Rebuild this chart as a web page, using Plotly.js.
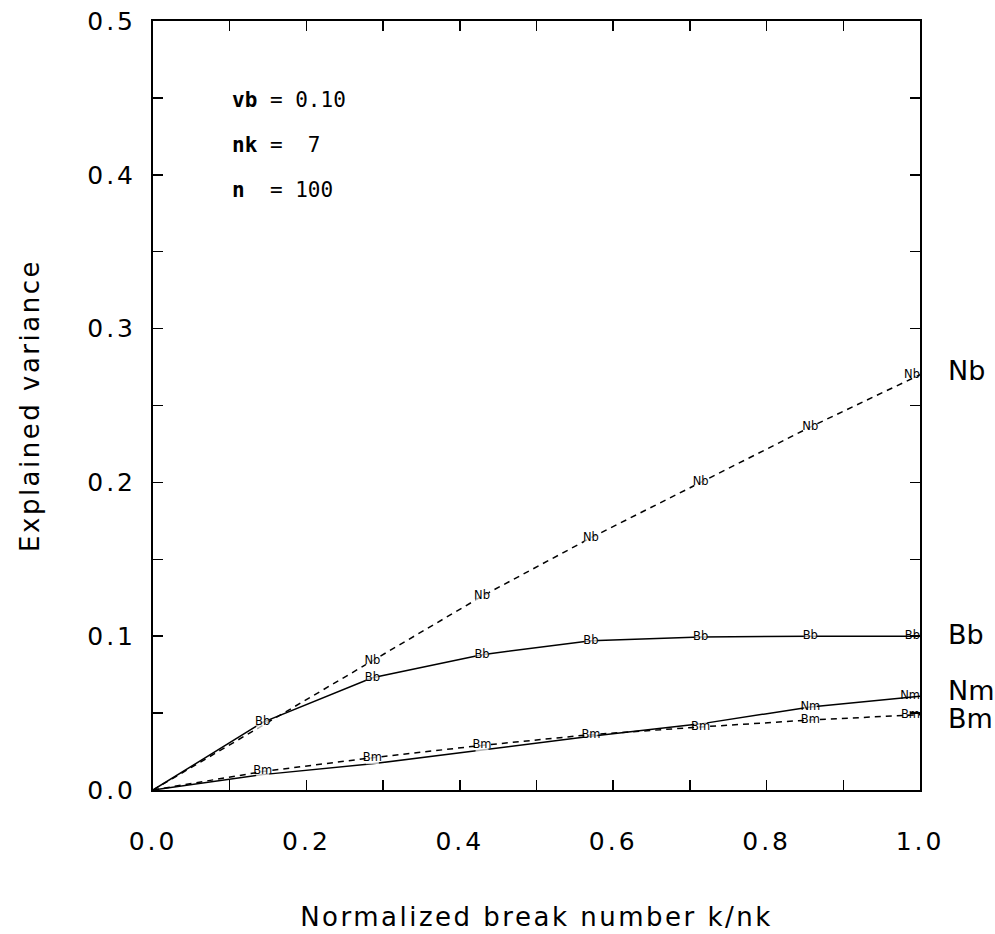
<!DOCTYPE html>
<html>
<head>
<meta charset="utf-8">
<script src="https://cdn.plot.ly/plotly-3.0.1.min.js"></script>
<style>
  html, body { margin: 0; padding: 0; background: #fff; }
  #chart { width: 995px; height: 934px; }
  .xtitle { letter-spacing: 2.5px; }
  .ytitle { letter-spacing: 2.5px; }
  .xtick text, .ytick text { letter-spacing: 3px; }
</style>
</head>
<body>
<div id="chart"></div>
<script>
// ---- data ----
const kNorm = [0, 0.143, 0.286, 0.429, 0.571, 0.714, 0.857, 1.0];
const Nb = [0, 0.042, 0.084, 0.126, 0.164, 0.200, 0.236, 0.270];
const Bb = [0, 0.044, 0.073, 0.088, 0.097, 0.0995, 0.100, 0.100];
const Nm = [0, 0.010, 0.017, 0.026, 0.035, 0.043, 0.054, 0.061];
const Bm = [0, 0.012, 0.021, 0.029, 0.036, 0.041, 0.0455, 0.049];

// in-line labels as visible in the reference (hidden ones are covered by another label there)
const NbLabels = ['', '', 'Nb', 'Nb', 'Nb', 'Nb', 'Nb', 'Nb'];
const BbLabels = ['', 'Bb', 'Bb', 'Bb', 'Bb', 'Bb', 'Bb', 'Bb'];
const NmLabels = ['', '', '', '', '', '', 'Nm', 'Nm'];
const BmLabels = ['', 'Bm', 'Bm', 'Bm', 'Bm', 'Bm', 'Bm', 'Bm'];

const seriesNames = ['Nb', 'Nm', 'Bb', 'Bm'];
const seriesDash  = ['dash', 'solid', 'solid', 'dash'];

const xTickVals = [0, 0.1, 0.2, 0.3, 0.4, 0.5, 0.6, 0.7, 0.8, 0.9, 1.0];
const xTickText = ['0.0', '', '0.2', '', '0.4', '', '0.6', '', '0.8', '', '1.0'];
const yTickVals = [0, 0.05, 0.1, 0.15, 0.2, 0.25, 0.3, 0.35, 0.4, 0.45, 0.5];
const yTickText = ['0.0', '', '0.1', '', '0.2', '', '0.3', '', '0.4', '', '0.5'];

const paramLines = ['<b>vb</b> = 0.10', '<b>nk</b> =\u00a0\u00a07', '<b>n</b>\u00a0\u00a0= 100'];

// ---- traces ----
const seriesY = { Nb: Nb, Nm: Nm, Bb: Bb, Bm: Bm };
const seriesText = { Nb: NbLabels, Nm: NmLabels, Bb: BbLabels, Bm: BmLabels };
const traces = seriesNames.map((name, i) => {
  const y = seriesY[name];
  const text = seriesText[name];
  const pos = y.map((v, j) => (j === y.length - 1 ? 'middle left' : 'middle center'));
  return {
    x: kNorm, y: y, type: 'scatter', mode: 'lines+markers+text',
    name: name, text: text, textposition: pos, cliponaxis: false,
    line: { color: '#000', width: 1.5, dash: seriesDash[i] === 'dash' ? '6px,5px' : 'solid' },
    marker: { symbol: 'square', size: text.map((t, j) => (t === '' || j === y.length - 1 ? 0 : 13)),
              color: '#fff', line: { width: 0 } },
    textfont: { family: 'DejaVu Sans', size: 11.5, color: '#000' },
    hoverinfo: 'x+y+name', showlegend: false
  };
});

// ---- annotations ----
const annotations = [];
const paramY = [0.897, 0.839, 0.780];
paramLines.forEach((t, i) => annotations.push({
  text: t, xref: 'paper', yref: 'paper', x: 0.1, y: paramY[i],
  xanchor: 'left', yanchor: 'middle', showarrow: false,
  font: { family: 'DejaVu Sans Mono', size: 21, color: '#000' }
}));
const endLabelY = { Nb: 0.546, Bb: 0.2016, Nm: 0.130, Bm: 0.0936 };
Object.keys(endLabelY).forEach(k => annotations.push({
  text: k, xref: 'paper', yref: 'paper', x: 1, y: endLabelY[k], xshift: 26,
  xanchor: 'left', yanchor: 'middle', showarrow: false,
  font: { family: 'DejaVu Sans', size: 27, color: '#000' }
}));

const axisCommon = {
  showgrid: false, zeroline: false, showline: true, linecolor: '#000', linewidth: 2,
  mirror: 'ticks', ticks: 'inside', ticklen: 10, tickwidth: 1.5, tickcolor: '#000',
  tickfont: { family: 'DejaVu Sans', size: 25, color: '#000' }, tickmode: 'array',
  automargin: false
};

const layout = {
  width: 995, height: 934,
  margin: { l: 153, r: 75, t: 21, b: 144 },
  paper_bgcolor: '#fff', plot_bgcolor: '#fff',
  showlegend: false,
  xaxis: Object.assign({}, axisCommon, {
    range: [0, 1], tickvals: xTickVals, ticktext: xTickText, ticklabelstandoff: 28,
    title: { text: 'Normalized break number k/nk', standoff: 53,
             font: { family: 'DejaVu Sans', size: 26, color: '#000' } }
  }),
  yaxis: Object.assign({}, axisCommon, {
    range: [0, 0.5], tickvals: yTickVals, ticktext: yTickText, ticklabelstandoff: 10,
    title: { text: 'Explained variance', standoff: 40,
             font: { family: 'DejaVu Sans', size: 26, color: '#000' } }
  }),
  annotations: annotations
};

Plotly.newPlot('chart', traces, layout, { displayModeBar: false, staticPlot: true });
</script>
</body>
</html>
